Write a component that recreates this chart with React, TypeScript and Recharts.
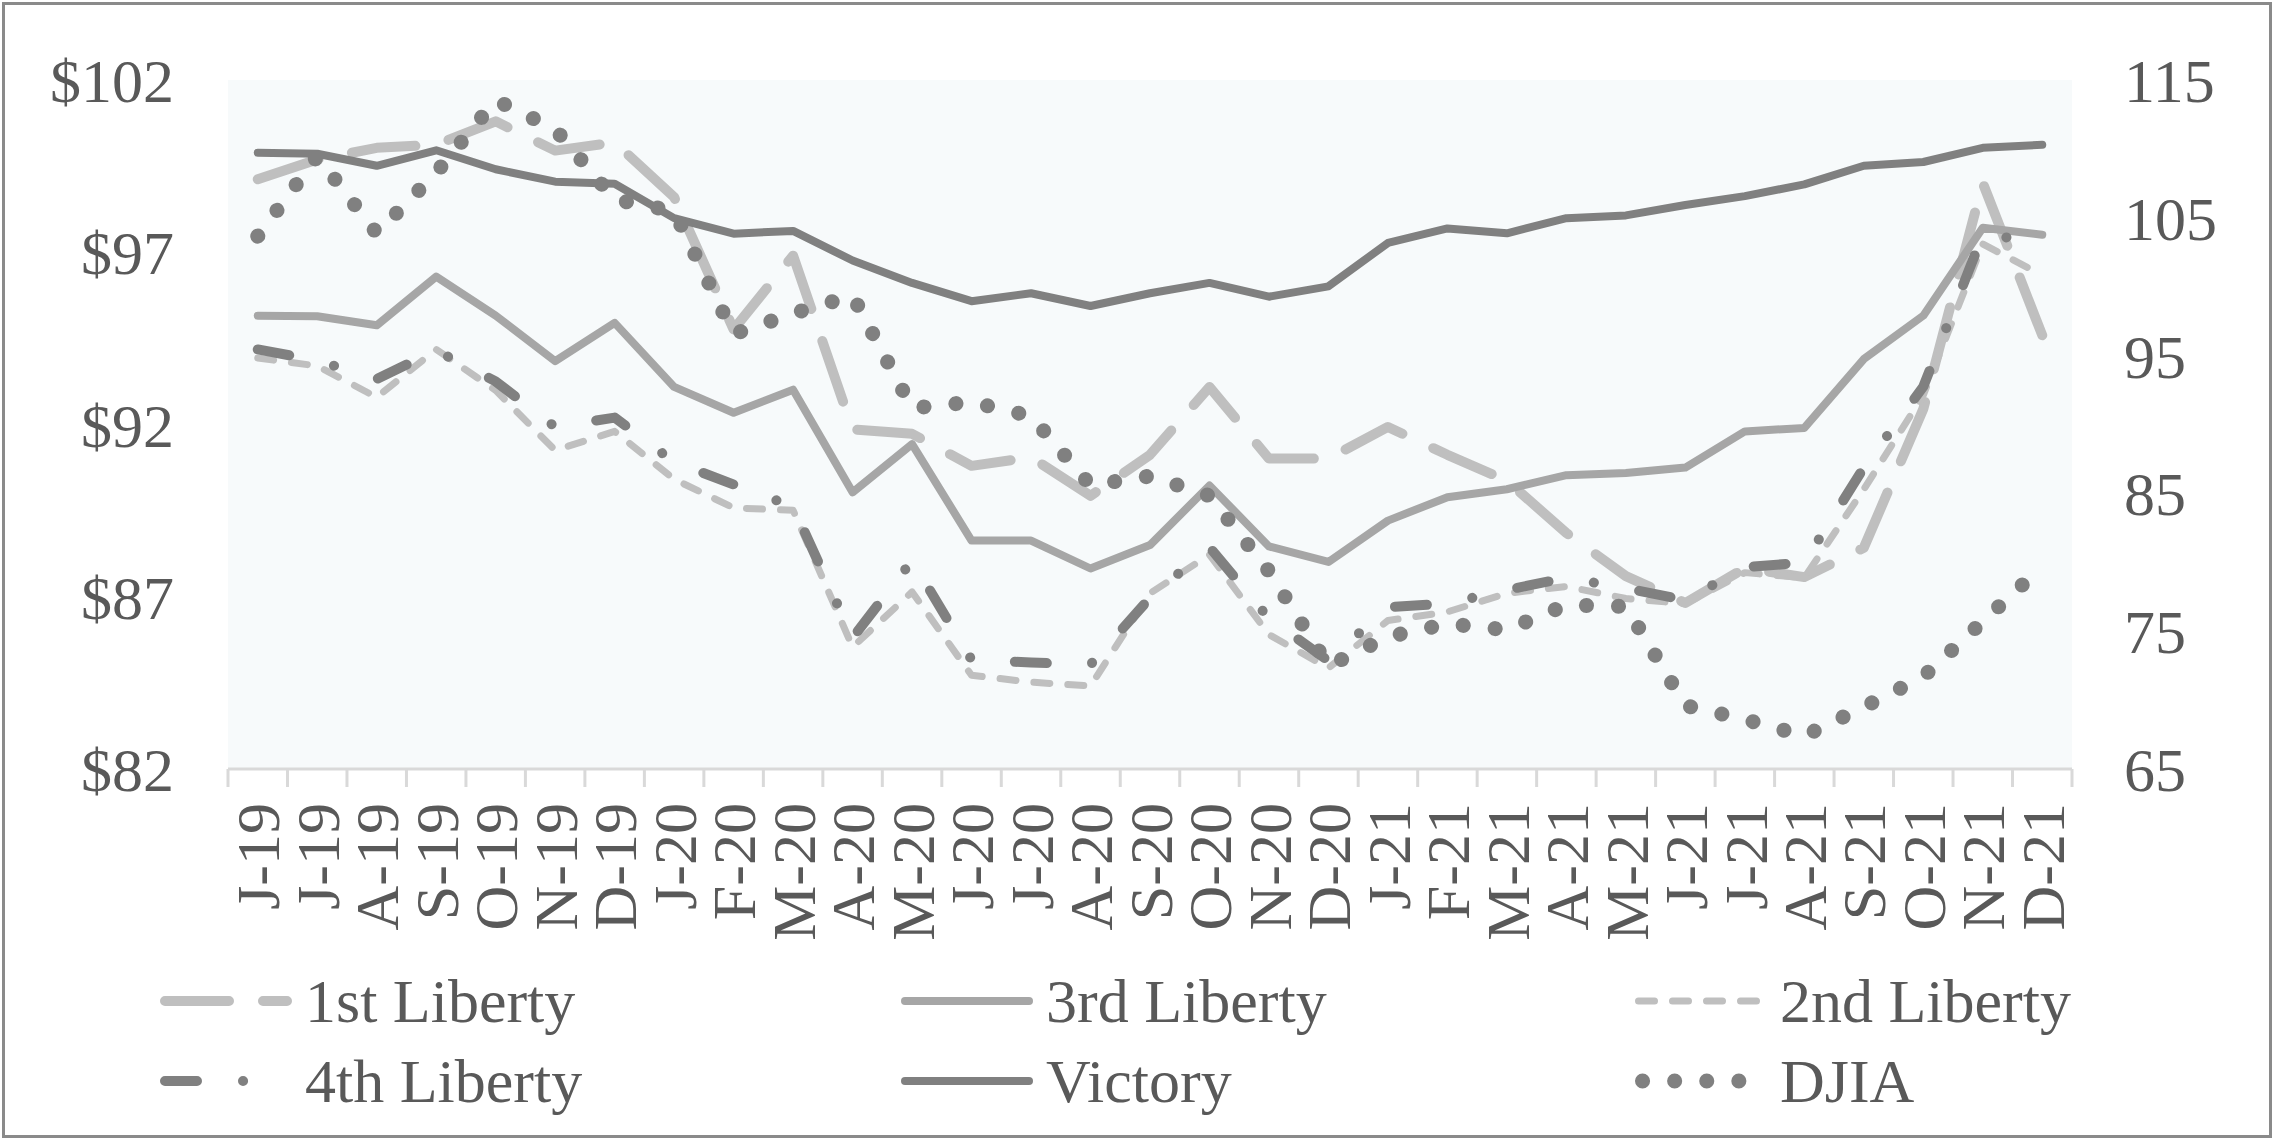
import React from 'react';
import { LineChart, Line, XAxis, YAxis, CartesianGrid } from 'recharts';

const periods = [
  'Jun-19', 'Jul-19', 'Aug-19', 'Sep-19', 'Oct-19', 'Nov-19', 'Dec-19',
  'Jan-20', 'Feb-20', 'Mar-20', 'Apr-20', 'May-20', 'Jun-20', 'Jul-20', 'Aug-20', 'Sep-20', 'Oct-20', 'Nov-20', 'Dec-20',
  'Jan-21', 'Feb-21', 'Mar-21', 'Apr-21', 'May-21', 'Jun-21', 'Jul-21', 'Aug-21', 'Sep-21', 'Oct-21', 'Nov-21', 'Dec-21',
];
const tickLabels = [
  'J-19', 'J-19', 'A-19', 'S-19', 'O-19', 'N-19', 'D-19',
  'J-20', 'F-20', 'M-20', 'A-20', 'M-20', 'J-20', 'J-20', 'A-20', 'S-20', 'O-20', 'N-20', 'D-20',
  'J-21', 'F-21', 'M-21', 'A-21', 'M-21', 'J-21', 'J-21', 'A-21', 'S-21', 'O-21', 'N-21', 'D-21',
];

const firstLiberty = [
  99.12, 99.69, 100.03, 100.12, 100.8, 99.95, 100.19, 98.6, 94.76, 96.9, 91.86, 91.73, 90.8, 91.05, 89.93, 91.12,
  93.09, 91.01, 91.01, 91.93, 91.12, 90.37, 88.85, 87.6, 86.82, 87.83, 87.57, 88.42, 92.45, 99.01, 94.59,
];
const thirdLiberty = [
  95.16, 95.14, 94.88, 96.29, 95.16, 93.84, 94.95, 93.09, 92.34, 93.01, 90.03, 91.43, 88.63, 88.63, 87.82, 88.5,
  90.23, 88.46, 88.01, 89.21, 89.89, 90.12, 90.53, 90.59, 90.75, 91.8, 91.9, 93.9, 95.16, 97.71, 97.51,
];
const secondLiberty = [
  93.93, 93.7, 92.79, 94.18, 92.99, 91.25, 91.8, 90.41, 89.58, 89.51, 85.54, 87.14, 84.72, 84.52, 84.41, 87.1,
  88.22, 85.9, 84.93, 86.31, 86.56, 87.1, 87.3, 86.95, 86.8, 87.7, 87.55, 90.12, 92.85, 97.24, 96.33,
];
const fourthLiberty = [
  94.18, 93.86, 93.32, 94.15, 93.25, 91.93, 92.2, 90.91, 90.26, 89.62, 85.81, 88.05, 85.17, 85.09, 85.03, 86.97,
  88.44, 86.37, 85.14, 86.7, 86.8, 87.2, 87.55, 87.25, 86.9, 87.86, 87.99, 90.75, 93.1, 97.51, 97.31,
];
const victory = [
  99.89, 99.86, 99.51, 99.96, 99.41, 99.05, 98.99, 97.99, 97.54, 97.62, 96.76, 96.11, 95.58, 95.81, 95.44, 95.81,
  96.11, 95.71, 96.01, 97.27, 97.69, 97.55, 97.99, 98.07, 98.37, 98.63, 98.97, 99.51, 99.62, 100.03, 100.12,
];
const djia = [
  103.67, 109.46, 103.88, 108.27, 113.54, 111.43, 106.33, 105.48, 96.56, 98.06, 99.35, 91.19, 91.63, 90.61, 85.58, 86.26,
  84.83, 79.35, 72.48, 74.59, 75.54, 75.1, 76.9, 76.8, 69.6, 68.6, 67.4, 69.5, 71.7, 75.71, 79.69,
];

const leftTicks = [82, 87, 92, 97, 102];
const rightTicks = [65, 75, 85, 95, 105, 115];

const data = periods.map((period, i) => ({
  period,
  first: firstLiberty[i],
  third: thirdLiberty[i],
  second: secondLiberty[i],
  fourth: fourthLiberty[i],
  victory: victory[i],
  djia: djia[i],
}));

// series in drawing order
const series = [
  { key: 'first', name: '1st Liberty', color: '#BFBFBF', width: 10, dash: '64 34', axis: 'left' },
  { key: 'third', name: '3rd Liberty', color: '#A6A6A6', width: 8, dash: undefined, axis: 'left' },
  { key: 'second', name: '2nd Liberty', color: '#BFBFBF', width: 7, dash: '16 18', axis: 'left' },
  { key: 'fourth', name: '4th Liberty', color: '#808080', width: 10, dash: '32 46 0.1 46', axis: 'left' },
  { key: 'victory', name: 'Victory', color: '#808080', width: 8, dash: undefined, axis: 'left' },
  { key: 'djia', name: 'DJIA', color: '#808080', width: 15, dash: '0.1 32', axis: 'right' },
];

const W = 2274;
const H = 1140;
const PLOT_LEFT = 228;
const PLOT_RIGHT = 2072;
const PLOT_TOP = 80;
const PLOT_BOTTOM = 769;
const BAND = (PLOT_RIGHT - PLOT_LEFT) / periods.length;
const FONT = '"Liberation Serif", "Times New Roman", serif';
const TEXT = '#595959';
const AXIS = '#D9D9D9';

const MonthTick = (props: any) => {
  const { x, y, index } = props;
  const ly = y + 34;
  return (
    <g>
      <line x1={x - BAND / 2} x2={x - BAND / 2} y1={y} y2={y + 18} stroke={AXIS} strokeWidth={3} />
      {index === tickLabels.length - 1 ? (
        <line x1={x + BAND / 2} x2={x + BAND / 2} y1={y} y2={y + 18} stroke={AXIS} strokeWidth={3} />
      ) : null}
      <text
        x={x}
        y={ly}
        dy='0.35em'
        textAnchor='end'
        transform={`rotate(-90, ${x}, ${ly})`}
        fontFamily={FONT}
        fontSize={62}
        fill={TEXT}
      >
        {tickLabels[index]}
      </text>
    </g>
  );
};

// legend grid: 3 columns x 2 rows
const legendCols = [160, 901, 1635];
const legendRows = [1001, 1081];
const legendOrder = ['first', 'third', 'second', 'fourth', 'victory', 'djia'];

const ChartLegend = () => (
  <svg width={W} height={H} style={{ position: 'absolute', left: 0, top: 0, pointerEvents: 'none' }}>
    {legendOrder.map((key, i) => {
      const s = series.find((d) => d.key === key)!;
      const sx = legendCols[i % 3];
      const sy = legendRows[Math.floor(i / 3)];
      return (
        <g key={key}>
          <line
            x1={sx + s.width / 2}
            x2={sx + 132 - s.width / 2}
            y1={sy}
            y2={sy}
            stroke={s.color}
            strokeWidth={s.width}
            strokeDasharray={s.dash}
            strokeLinecap='round'
          />
          <text x={sx + 145} y={sy + 21} fontFamily={FONT} fontSize={62} fill={TEXT}>
            {s.name}
          </text>
        </g>
      );
    })}
  </svg>
);

const App: React.FC = () => {
  return (
    <div style={{ position: 'absolute', left: 0, top: 0, width: W, height: H, background: '#fff' }}>
      <LineChart
        width={W}
        height={H}
        data={data}
        margin={{ top: PLOT_TOP, right: 0, bottom: 0, left: 0 }}
      >
        <CartesianGrid fill='#F7FAFB' stroke='none' horizontal={false} vertical={false} />
        <XAxis
          dataKey='period'
          scale='band'
          interval={0}
          height={H - PLOT_BOTTOM}
          tickLine={false}
          tickSize={0}
          tickMargin={0}
          axisLine={{ stroke: AXIS, strokeWidth: 3 }}
          tick={<MonthTick />}
        />
        <YAxis
          yAxisId='left'
          width={PLOT_LEFT}
          domain={[82, 102]}
          ticks={leftTicks}
          tickFormatter={(v: number) => `$${v}`}
          axisLine={false}
          tickLine={false}
          tickSize={0}
          tickMargin={54}
          tick={{ fontFamily: FONT, fontSize: 62, fill: TEXT }}
        />
        <YAxis
          yAxisId='right'
          orientation='right'
          width={W - PLOT_RIGHT}
          domain={[65, 115]}
          ticks={rightTicks}
          axisLine={false}
          tickLine={false}
          tickSize={0}
          tickMargin={52}
          tick={{ fontFamily: FONT, fontSize: 62, fill: TEXT, textAnchor: 'start' }}
        />
        {series.map((s) => (
          <Line
            key={s.key}
            yAxisId={s.axis}
            type='linear'
            dataKey={s.key}
            name={s.name}
            stroke={s.color}
            strokeWidth={s.width}
            strokeDasharray={s.dash}
            strokeLinecap='round'
            strokeLinejoin='round'
            dot={false}
            activeDot={false}
            isAnimationActive={false}
          />
        ))}
      </LineChart>
      <ChartLegend />
      <div
        style={{
          position: 'absolute',
          left: 2,
          top: 2,
          width: W - 4,
          height: H - 4,
          boxSizing: 'border-box',
          border: '3px solid #8A8A8A',
          pointerEvents: 'none',
        }}
      />
    </div>
  );
};

export default App;
